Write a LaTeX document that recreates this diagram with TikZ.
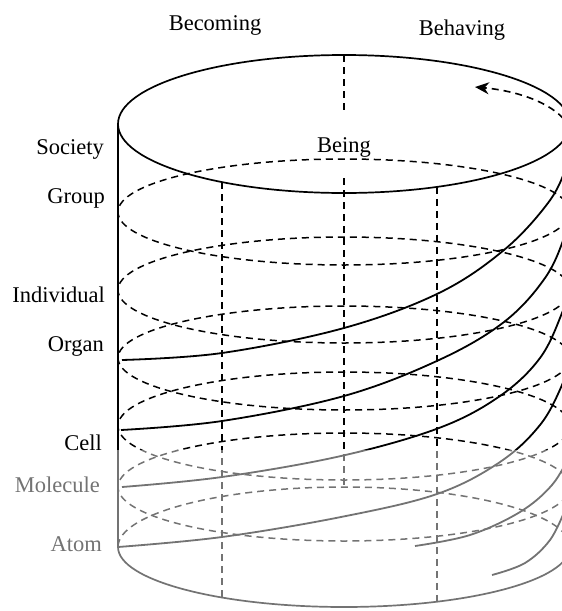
\documentclass[tikz,border=0pt]{standalone}
\usepackage{fontspec}
\setmainfont{Liberation Serif}
\usetikzlibrary{arrows.meta}
\begin{document}
\begin{tikzpicture}[x=1pt,y=-1pt,
  wall/.style={line width=1.7pt},
  ring/.style={line width=1.5pt, dash pattern=on 7pt off 5pt},
  helix/.style={line width=1.8pt},
  backhelix/.style={line width=1.6pt, dash pattern=on 7pt off 5pt,
    -{Stealth[length=14pt,width=12pt]}},
  lvl/.style={font=\fontsize{22.5}{26}\selectfont, inner sep=0pt, anchor=east},
  ttl/.style={font=\fontsize{22.5}{26}\selectfont, inner sep=0pt},
  fade/.style={fill=white, opacity=0.45}]
\clip (0,0) rectangle (562,611);

% cylinder: top rim, side walls, bottom rim
\draw[wall] (344,124) ellipse [x radius=226pt, y radius=69pt];
\coordinate (topleft) at (118,124);
\coordinate (botleft) at (118,547);
\draw[wall] (topleft) -- (botleft);
\draw[wall] (570,124) -- (570,547);
\draw[ring] (570,547) arc[start angle=0, end angle=180, x radius=226pt, y radius=60pt];
\draw[wall] (botleft) arc[start angle=180, end angle=360, x radius=226pt, y radius=60pt];

% hidden level rings
\draw[ring] (344,212) ellipse [x radius=226pt, y radius=53pt];
\draw[ring] (344,290) ellipse [x radius=226pt, y radius=53pt];
\draw[ring] (344,358) ellipse [x radius=226pt, y radius=52pt];
\draw[ring] (344,426) ellipse [x radius=226pt, y radius=54pt];
\draw[ring] (344,487) ellipse [x radius=226pt, y radius=54pt];

% vertical guide lines
\coordinate (vl1) at (222,182.1);
\coordinate (vl2) at (222,597.5);
\coordinate (vr1) at (437,186.9);
\coordinate (vr2) at (437,601.7);
\coordinate (vc1) at (344,55);
\coordinate (vc2) at (344,112);
\coordinate (vc3) at (344,178);
\coordinate (vc4) at (344,487);
\draw[ring] (vl1) -- (vl2);
\draw[ring] (vr1) -- (vr2);
\draw[ring] (vc1) -- (vc2);
\draw[ring] (vc3) -- (vc4);

% spiral paths on the front face
\draw[helix] plot[smooth, tension=0.6] coordinates {(122,360) (222,353) (344,328) (439,293) (504,250) (548,203) (566,168) (573,140)};
\coordinate (hstart) at (573,140);
\coordinate (htip) at (475,87);
\draw[backhelix] (hstart) .. controls (572,112) and (530,92) .. (htip);
\draw[helix] plot[smooth, tension=0.6] coordinates {(121,430) (222,421) (344,396) (439,360) (504,322) (545,278) (565,235) (573,200)};
\draw[helix] plot[smooth, tension=0.6] coordinates {(122,487) (222,477) (341,456) (439,428) (500,396) (540,358) (562,313) (572,280)};
\draw[helix] plot[smooth, tension=0.6] coordinates {(118,547) (222,537) (341,517) (437,494) (500,462) (540,425) (562,385) (571,355)};
\draw[helix] plot[smooth, tension=0.6] coordinates {(415,546) (470,535) (520,512) (552,485) (570,455)};
\draw[helix] plot[smooth, tension=0.6] coordinates {(492,575) (525,563) (550,540) (565,510)};

% headings
\node[ttl] (becoming) at (215,25) {Becoming};
\node[ttl] (behaving) at (462,30) {Behaving};
\node[ttl] (being) at (344,147) {Being};

% level labels
\node[lvl] (society) at (104,149) {Society};
\node[lvl] (group) at (105,198) {Group};
\node[lvl] (individual) at (105,295) {Individual};
\node[lvl] (organ) at (104,346) {Organ};
\node[lvl] (cell) at (102,443) {Cell};
\node[lvl] (molecule) at (100,485) {Molecule};
\node[lvl] (atom) at (102,544) {Atom};

% lighter print on the lower levels
\fill[fade] (0,450) rectangle (562,611);
\end{tikzpicture}
\end{document}
